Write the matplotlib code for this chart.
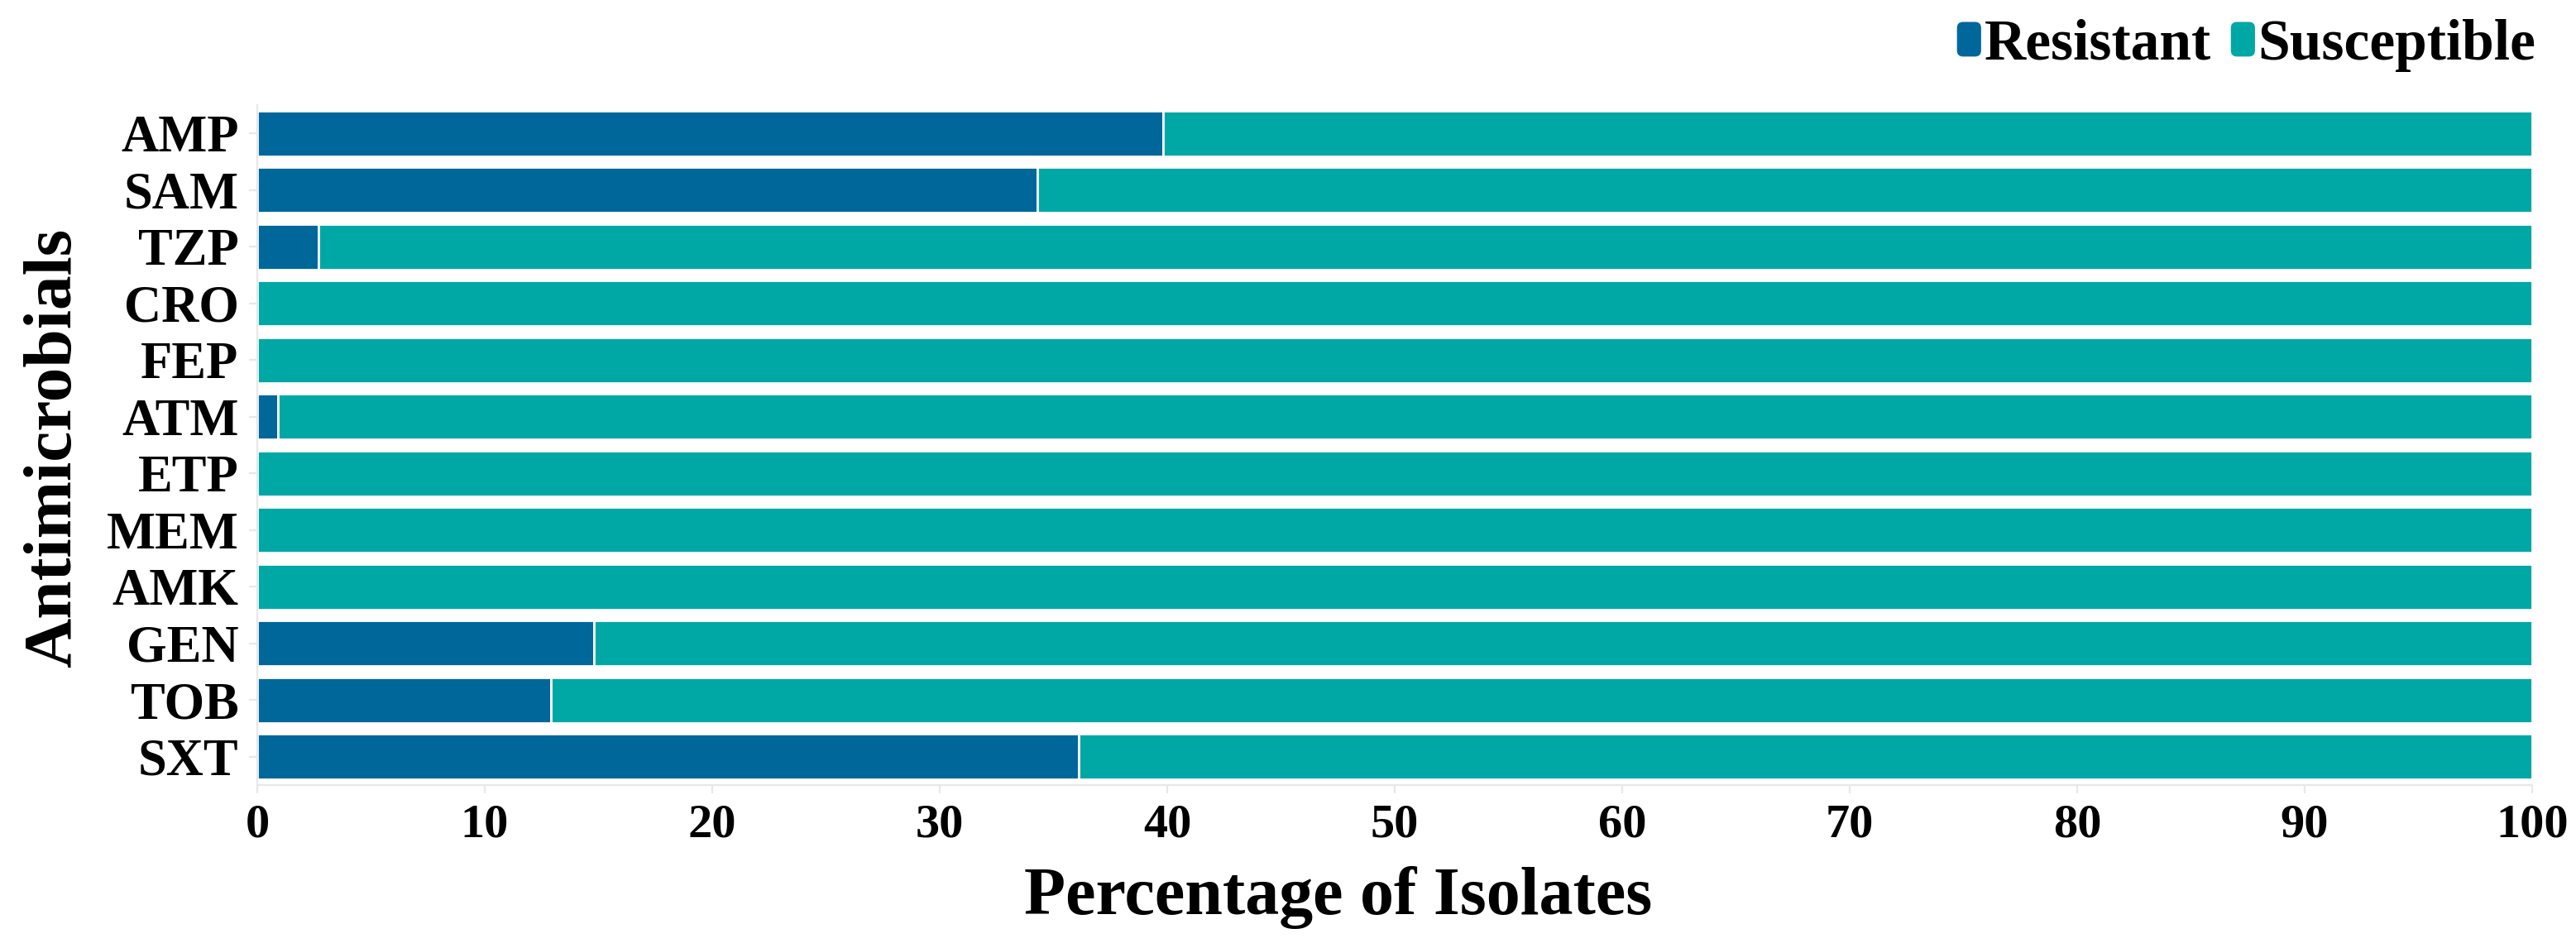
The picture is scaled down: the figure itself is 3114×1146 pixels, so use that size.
import matplotlib
matplotlib.use("Agg")
import matplotlib.pyplot as plt
from matplotlib.patches import FancyBboxPatch, Patch
from matplotlib.legend_handler import HandlerPatch

categories = ["AMP", "SAM", "TZP", "CRO", "FEP", "ATM", "ETP", "MEM", "AMK", "GEN", "TOB", "SXT"]
resistant = [39.8, 34.3, 2.7, 0.0, 0.0, 0.9, 0.0, 0.0, 0.0, 14.8, 12.9, 36.1]
susceptible = [60.2, 65.7, 97.3, 100.0, 100.0, 99.1, 100.0, 100.0, 100.0, 85.2, 87.1, 63.9]
xticks = [0, 10, 20, 30, 40, 50, 60, 70, 80, 90, 100]

c_res = "#00679A"
c_sus = "#00A8A5"
FONT = "Liberation Serif"

W, H, DPI = 3114, 1146, 200
fig = plt.figure(figsize=(W / DPI, H / DPI), dpi=DPI)
ax = fig.add_axes([311 / W, 1 - 949 / H, 2750 / W, 822 / H])

y = list(range(len(categories)))
ax.barh(y, resistant, height=0.8, color=c_res, edgecolor="white", linewidth=1.0, label="Resistant")
ax.barh(y, susceptible, left=resistant, height=0.8, color=c_sus, edgecolor="white", linewidth=1.0, label="Susceptible")

ax.set_xlim(0, 100)
ax.set_ylim(len(categories) - 0.5, -0.5)
ax.set_yticks(y)
ax.set_yticklabels(categories)
ax.set_xticks(xticks)
ax.set_xticklabels([str(t) for t in xticks])

for lab in ax.get_xticklabels():
    lab.set_fontfamily(FONT)
    lab.set_fontweight("bold")
    lab.set_fontsize(21)
for lab in ax.get_yticklabels():
    lab.set_fontfamily(FONT)
    lab.set_fontweight("bold")
    lab.set_fontsize(22.5)

gc = "#e8e8e8"
for s in ["top", "right"]:
    ax.spines[s].set_visible(False)
for s in ["left", "bottom"]:
    ax.spines[s].set_color(gc)
    ax.spines[s].set_linewidth(0.8)
ax.tick_params(axis="both", colors=gc, length=3.6, width=0.8, pad=4.5)
ax.tick_params(axis="both", labelcolor="black")

fig.text(1618 / W, 1 - 1105 / H, "Percentage of Isolates", ha="center", va="baseline",
         fontfamily=FONT, fontweight="bold", fontsize=29.5)
fig.text(85 / W, 1 - 541 / H, "Antimicrobials", rotation=90, rotation_mode="anchor",
         ha="center", va="baseline", fontfamily=FONT, fontweight="bold", fontsize=30)


class RoundHandler(HandlerPatch):
    def create_artists(self, legend, orig_handle, xdescent, ydescent, width, height, fontsize, trans):
        p = FancyBboxPatch((-xdescent, -ydescent), width, height,
                           boxstyle="round,pad=0,rounding_size=%f" % (0.25 * width),
                           fc=orig_handle.get_facecolor(), ec="none", transform=trans)
        return [p]


handles = [Patch(facecolor=c_res), Patch(facecolor=c_sus)]
leg = fig.legend(handles, ["Resistant", "Susceptible"], loc="center right",
                 bbox_to_anchor=(3100 / W, 1 - 55 / H), bbox_transform=fig.transFigure,
                 ncol=2, frameon=False, borderpad=0, handlelength=0.42, handleheight=0.55,
                 handletextpad=0.05, columnspacing=0.35,
                 prop={"family": FONT, "weight": "bold", "size": 25},
                 handler_map={Patch: RoundHandler()})

fig.savefig("out.png", dpi=DPI)
